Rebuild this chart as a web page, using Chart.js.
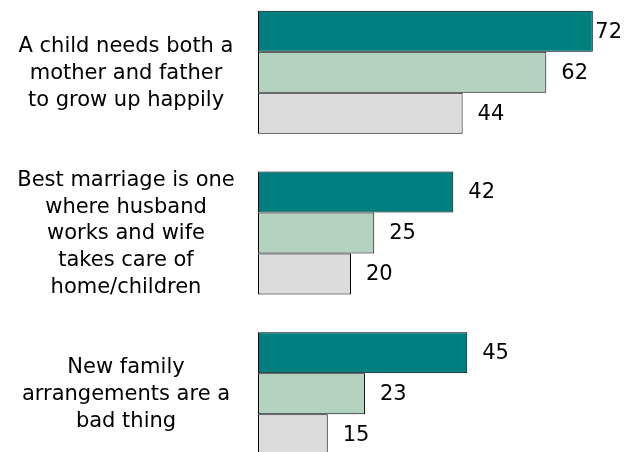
<!DOCTYPE html>
<html>
<head>
<meta charset="utf-8">
<script src="https://cdn.jsdelivr.net/npm/chart.js@4.4.0/dist/chart.umd.min.js"></script>
<style>
  html, body { margin: 0; padding: 0; background: #fff; overflow: hidden; }
  body { width: 625px; height: 452px; position: relative; }
  #wrap { position: absolute; left: 0; top: -8px; width: 625px; height: 482px; }
</style>
</head>
<body>
<div id="wrap"><canvas id="chart"></canvas></div>
<script>
// dados do gráfico
const categories = [
  ['A child needs both a', 'mother and father', 'to grow up happily'],
  ['Best marriage is one', 'where husband', 'works and wife', 'takes care of', 'home/children'],
  ['New family', 'arrangements are a', 'bad thing']
];
const seriesNames = ['Series 1', 'Series 2', 'Series 3'];
const series1 = [72, 42, 45];
const series2 = [62, 25, 23];
const series3 = [44, 20, 15];
const seriesColors = ['#007f7f', '#b3d3c0', '#dcdcdc'];

const FONT = '"DejaVu Sans", sans-serif';

// rótulos das categorias, centrados à esquerda das barras
const categoryLabels = {
  id: 'categoryLabels',
  afterDraw(chart) {
    const ctx = chart.ctx;
    const yScale = chart.scales.y;
    ctx.save();
    ctx.font = '21px ' + FONT;
    ctx.fillStyle = '#000';
    ctx.textAlign = 'center';
    ctx.textBaseline = 'middle';
    const lh = 26.8;
    categories.forEach((lines, i) => {
      const cy = yScale.getPixelForValue(i);
      lines.forEach((line, k) => {
        ctx.fillText(line, 126, cy + (k - (lines.length - 1) / 2) * lh + 1);
      });
    });
    ctx.restore();
  }
};

// rótulos de valor à direita das barras
const valueLabels = {
  id: 'valueLabels',
  afterDatasetsDraw(chart) {
    const ctx = chart.ctx;
    ctx.save();
    ctx.font = '21px ' + FONT;
    ctx.fillStyle = '#000';
    ctx.textBaseline = 'middle';
    ctx.textAlign = 'left';
    chart.data.datasets.forEach((ds, i) => {
      const meta = chart.getDatasetMeta(i);
      meta.data.forEach((bar, j) => {
        const txt = String(ds.data[j]);
        const w = ctx.measureText(txt).width;
        let x = bar.x + 15;
        // não deixa o rótulo sair do canvas
        if (x + w > chart.width - 3) x = chart.width - 3 - w;
        ctx.fillText(txt, x, bar.y + 1);
      });
    });
    ctx.restore();
  }
};

const ctx = document.getElementById('chart').getContext('2d');
new Chart(ctx, {
  type: 'bar',
  data: {
    labels: categories.map(c => c.join(' ')),
    datasets: [series1, series2, series3].map((d, i) => ({
      label: seriesNames[i],
      data: d,
      backgroundColor: seriesColors[i],
      borderColor: '#000',
      borderWidth: 1,
      borderSkipped: false,
      barPercentage: 1,
      categoryPercentage: 0.766
    }))
  },
  options: {
    indexAxis: 'y',
    responsive: true,
    maintainAspectRatio: false,
    animation: false,
    layout: { padding: { left: 0, right: 18.25, top: 0, bottom: 0 } },
    plugins: {
      legend: { display: false },
      tooltip: { enabled: false }
    },
    scales: {
      x: {
        display: false,
        min: 0,
        max: 75
      },
      y: {
        grid: { display: false, drawTicks: false },
        border: { display: false },
        ticks: { display: false },
        afterFit(scale) { scale.width = 258; }
      }
    }
  },
  plugins: [valueLabels, categoryLabels]
});
</script>
</body>
</html>
